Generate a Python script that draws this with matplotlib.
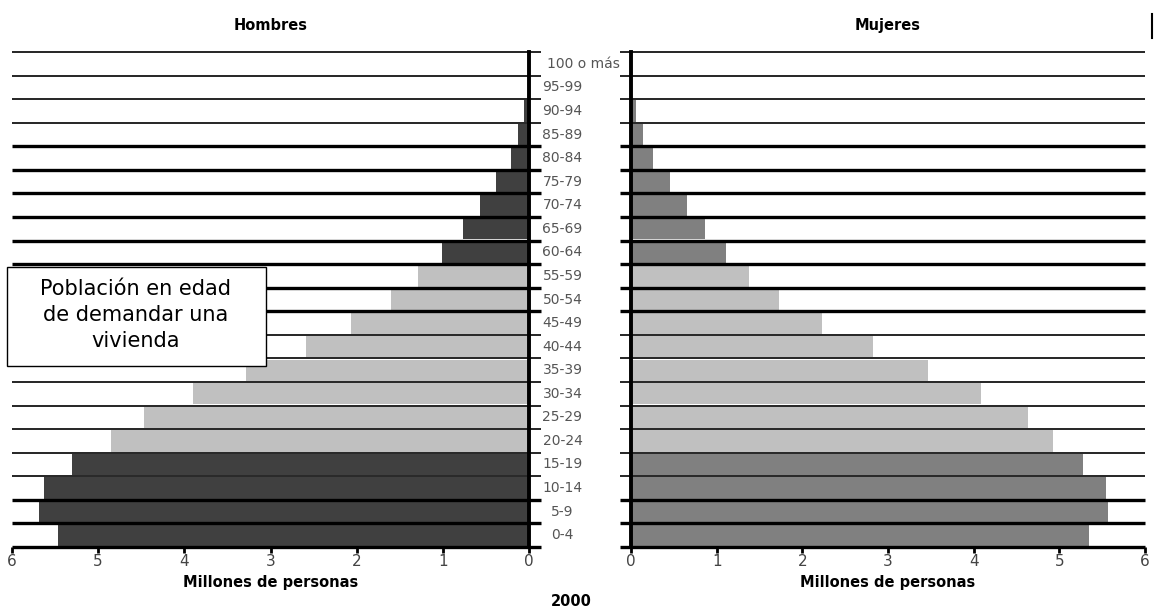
import matplotlib
matplotlib.use("Agg")
import matplotlib.pyplot as plt
from matplotlib.patches import Rectangle
from matplotlib.lines import Line2D
import numpy as np

# age groups, bottom to top
edades = ["0-4", "5-9", "10-14", "15-19", "20-24", "25-29", "30-34", "35-39",
          "40-44", "45-49", "50-54", "55-59", "60-64", "65-69", "70-74",
          "75-79", "80-84", "85-89", "90-94", "95-99", "100 o más"]
# millions of people, year 2000
hombres = [5.47, 5.69, 5.63, 5.30, 4.85, 4.47, 3.90, 3.28, 2.59, 2.06, 1.60,
           1.29, 1.01, 0.77, 0.57, 0.38, 0.21, 0.13, 0.06, 0.01, 0.0]
mujeres = [5.35, 5.57, 5.54, 5.28, 4.93, 4.63, 4.09, 3.47, 2.82, 2.23, 1.73,
           1.38, 1.11, 0.86, 0.65, 0.45, 0.26, 0.14, 0.06, 0.01, 0.0]
# ages able to demand a home (highlighted in light grey)
edad_vivienda = ["20-24", "25-29", "30-34", "35-39", "40-44", "45-49",
                 "50-54", "55-59"]
ticks = [0, 1, 2, 3, 4, 5, 6]

fam = ["DejaVu Sans"]
W, H = 1156, 609

fig = plt.figure(figsize=(W / 100, H / 100), dpi=100)
axL = fig.add_axes([12 / W, 1 - 547 / H, 517 / W, 495 / H])
axR = fig.add_axes([631 / W, 1 - 547 / H, 514 / W, 495 / H])

y = np.arange(len(edades))
en_vivienda = [e in edad_vivienda for e in edades]
colL = ["#c0c0c0" if v else "#404040" for v in en_vivienda]
colR = ["#c0c0c0" if v else "#808080" for v in en_vivienda]

axL.barh(y, hombres, height=0.9, color=colL, zorder=2)
axR.barh(y, mujeres, height=0.9, color=colR, zorder=2)

# row boundaries: thick ones between 60-64..80-84 and around 5-9
bounds = np.arange(len(edades) + 1) - 0.5
idx_top = len(edades) - np.arange(len(edades) + 1)  # index counted from top
for b, k in zip(bounds, idx_top):
    thick = (4 <= k <= 11) or (19 <= k <= 21)
    lw = 2.4 if thick else 1.2
    axL.hlines(b, 6, -0.14, color="black", lw=lw, clip_on=False, zorder=3)
    axR.hlines(b, -0.13, 6, color="black", lw=lw, clip_on=False, zorder=3)

axL.set_xlim(6, 0)
axR.set_xlim(0, 6)
for ax in (axL, axR):
    ax.set_ylim(-0.5, len(edades) - 0.5)
    ax.set_yticks([])
    ax.set_xticks(ticks)
    ax.set_xticklabels([str(t) for t in ticks], family=fam,
                       fontsize=11, color="#444444")
    ax.tick_params(axis="x", direction="out", length=4, width=2, pad=1)
    for s in ("top", "left", "right", "bottom"):
        ax.spines[s].set_visible(False)
    ax.set_xlabel("Millones de personas", family=fam, fontsize=10.5,
                  fontweight="bold", labelpad=4)
    ax.axvline(0, color="black", lw=2.8, zorder=4, clip_on=False)

axL.set_title("Hombres", family=fam, fontsize=10.5, fontweight="bold", pad=16)
axR.set_title("Mujeres", family=fam, fontsize=10.5, fontweight="bold", pad=16)

# age labels in the middle
for yi, e in zip(y, edades):
    if len(e) > 5:
        axR.text(-0.13, yi, e, ha="right", va="center", family=fam,
                 fontsize=10, color="#555555", clip_on=False)
    else:
        axR.text(-0.80, yi, e, ha="center", va="center", family=fam,
                 fontsize=10, color="#555555", clip_on=False)

fig.text(571 / W, 1 - 602 / H, "2000", ha="center", va="center",
         family=fam, fontsize=10.5, fontweight="bold")

# annotation box
fig.add_artist(Rectangle((7 / W, 1 - 366 / H), 259 / W, 99 / H,
                         transform=fig.transFigure, facecolor="white",
                         edgecolor="black", lw=1, zorder=10))
fig.text(136 / W, 1 - 315 / H, "Población en edad\nde demandar una\nvivienda",
         ha="center", va="center", family=fam, fontsize=15,
         linespacing=1.35, zorder=11)

# stray mark at top right
fig.add_artist(Line2D([1152 / W, 1152 / W], [1 - 14 / H, 1 - 38 / H],
                      transform=fig.transFigure, color="black", lw=1.5))

fig.savefig("out.png", dpi=100)
